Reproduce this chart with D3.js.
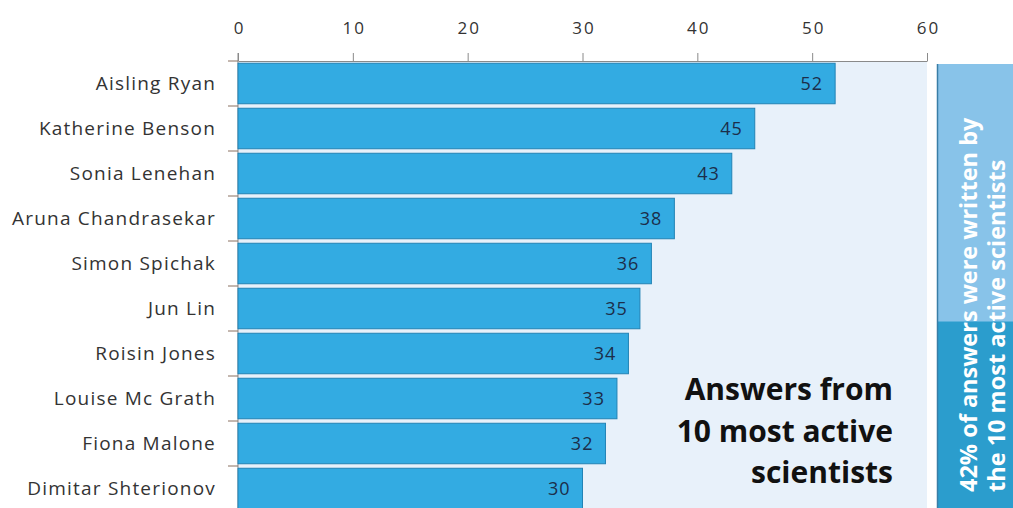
<!DOCTYPE html>
<html><head><meta charset="utf-8">
<script src="https://cdn.jsdelivr.net/npm/d3@7"></script>
<style>
html,body{margin:0;padding:0;background:#fff;overflow:hidden}
svg{display:block;font-family:"Open Sans",sans-serif}
</style></head>
<body>
<svg id="c" width="1013" height="508"></svg>
<script>
const names = ["Aisling Ryan","Katherine Benson","Sonia Lenehan","Aruna Chandrasekar","Simon Spichak","Jun Lin","Roisin Jones","Louise Mc Grath","Fiona Malone","Dimitar Shterionov"];
const answers = [52,45,43,38,36,35,34,33,32,30];
const xTicks = [0,10,20,30,40,50,60];
const titleLines = ["Answers from","10 most active","scientists"];
const shareLines = ["42% of answers were written by","the 10 most active scientists"];
const sharePct = 42;

const svg = d3.select("#c");
const x = d3.scaleLinear().domain([0,60]).range([238,927]);
const y = d3.scaleBand().domain(names).range([61,511]).paddingInner(0.1).paddingOuter(0.05);

// background panel
svg.append("rect").attr("x",x(0)).attr("y",62).attr("width",x(60)-x(0)).attr("height",460).attr("fill","#e8f1fa");

// top axis
const ax = svg.append("g").attr("transform","translate(0,61)")
  .call(d3.axisTop(x).tickValues(xTicks).tickSize(8).tickSizeOuter(0).tickPadding(19));
ax.select(".domain").attr("stroke","#8a8a8a");
ax.selectAll(".tick line").attr("stroke","#8a8a8a");
ax.selectAll(".tick text").attr("font-size",17).attr("fill","#333").attr("font-family","Open Sans").style("letter-spacing","2px").attr("dx","1px");

// left axis line and boundary ticks
svg.append("line").attr("x1",x(0)).attr("x2",x(0)).attr("y1",53).attr("y2",508).attr("stroke","#8a8a8a");
const bounds = names.map((n,i)=> y.range()[0] + y.step()*i);
svg.selectAll(".bt").data(bounds).enter().append("line")
  .attr("x1",228).attr("x2",x(0)).attr("y1",d=>d).attr("y2",d=>d).attr("stroke","#8a7060");

// bars
svg.selectAll(".bar").data(answers).enter().append("rect")
  .attr("x",x(0)).attr("y",(d,i)=>y(names[i])).attr("width",d=>x(d)-x(0)).attr("height",y.bandwidth())
  .attr("fill","#33abe2").attr("stroke","#2283b5").attr("stroke-width",1);

// value labels
svg.selectAll(".val").data(answers).enter().append("text")
  .attr("x",d=>x(d)-12).attr("y",(d,i)=>y(names[i])+y.bandwidth()/2).attr("dy","0.36em")
  .attr("text-anchor","end").attr("font-size",18).style("letter-spacing","1px").attr("fill","#1c2e4a").text(d=>d);

// names
svg.selectAll(".nm").data(names).enter().append("text")
  .attr("x",216).attr("y",d=>y(d)+y.bandwidth()/2).attr("dy","0.33em")
  .attr("text-anchor","end").attr("font-size",19).style("letter-spacing","1.2px").attr("fill","#333").text(d=>d);

// title
svg.selectAll(".tt").data(titleLines).enter().append("text")
  .attr("x",893).attr("y",(d,i)=>400+i*41.5).attr("text-anchor","end")
  .attr("font-size",30).attr("font-weight",700).attr("fill","#111").text(d=>d);

// right share panel
const p = d3.scaleLinear().domain([0,100]).range([508,64]);
svg.append("rect").attr("x",937).attr("y",p(100)).attr("width",80).attr("height",p(0)-p(100)).attr("fill","#88c3e9");
svg.append("rect").attr("x",937).attr("y",p(sharePct)).attr("width",80).attr("height",p(0)-p(sharePct)).attr("fill","#2b9dcd");
svg.append("line").attr("x1",937.5).attr("x2",937.5).attr("y1",p(100)).attr("y2",508).attr("stroke","#3a7ea6").attr("stroke-width",1.5);
svg.selectAll(".sh").data(shareLines).enter().append("text")
  .attr("transform",(d,i)=>`translate(${977+i*28},492) rotate(-90)`)
  .attr("font-size",23.5).attr("font-weight",700).attr("fill","#fff").text(d=>d);
</script>
</body></html>
